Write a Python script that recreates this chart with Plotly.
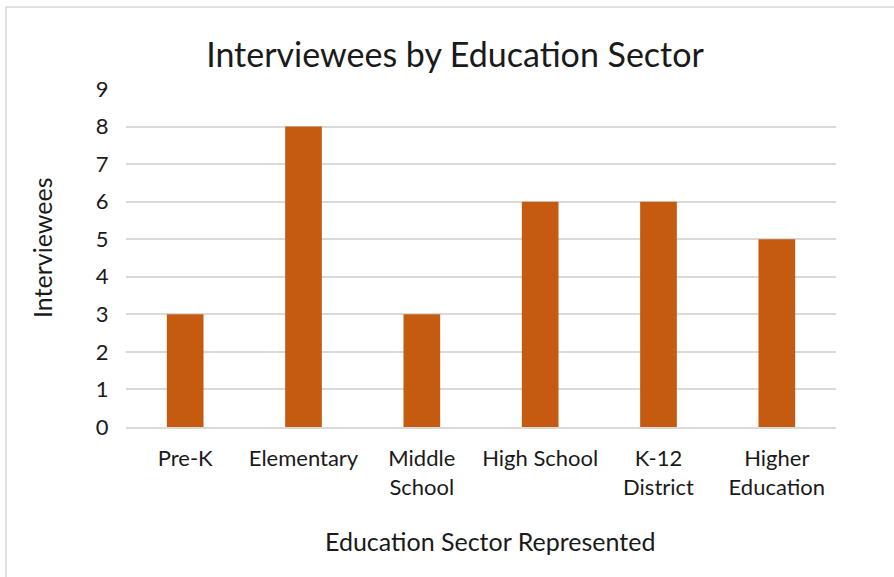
import plotly.graph_objects as go

categories = ["Pre-K", "Elementary", "Middle<br>School", "High School", "K-12<br>District", "Higher<br>Education"]
values = [3, 8, 3, 6, 6, 5]
y_ticks = [0, 1, 2, 3, 4, 5, 6, 7, 8, 9]

W, H = 894, 577
L, R, T, B = 126, 58, 89, 150
pw = W - L - R
ph = H - T - B
FONT = "Lato"
TXT = "#1a1a1a"

fig = go.Figure(go.Bar(x=categories, y=values, marker_color="#C55A11",
                       marker_line_width=0, width=0.31))

fig.update_layout(
    width=W, height=H,
    margin=dict(l=L, r=R, t=T, b=B, autoexpand=False),
    paper_bgcolor="white", plot_bgcolor="white",
    font=dict(family=FONT, color=TXT, size=22),
    title=dict(text="Interviewees by Education Sector", x=455 / W,
               xref="container", xanchor="center", y=1 - 55 / H, yref="container",
               yanchor="middle", font=dict(size=34, family=FONT, color=TXT)),
    showlegend=False,
)

fig.update_xaxes(showgrid=False, showline=True, linecolor="#d9d9d9", linewidth=1.5,
                 ticks="outside", ticklen=11, tickcolor="rgba(0,0,0,0)",
                 tickfont=dict(size=22, family=FONT, color=TXT))
fig.update_yaxes(range=[0, 9], tickvals=y_ticks, showgrid=True, gridcolor="#d9d9d9",
                 gridwidth=1.5, zeroline=False, showline=False,
                 ticks="outside", ticklen=12, tickcolor="rgba(0,0,0,0)",
                 tickfont=dict(size=22, family=FONT, color=TXT))

fig.add_annotation(text="Education Sector Represented", xref="paper", yref="paper",
                   x=(490 - L) / pw, y=-(541 - (T + ph)) / ph, showarrow=False,
                   xanchor="center", yanchor="middle", font=dict(size=25, family=FONT, color=TXT))
fig.add_annotation(text="Interviewees", xref="paper", yref="paper",
                   x=(42 - L) / pw, y=1 - (248 - T) / ph, showarrow=False, textangle=-90,
                   xanchor="center", yanchor="middle", font=dict(size=25, family=FONT, color=TXT))

# chart frame
fig.add_shape(type="rect", xref="paper", yref="paper",
              x0=(6 - L) / pw, x1=(W + 10 - L) / pw,
              y0=-(H + 10 - T - ph) / ph, y1=1 + (T - 7) / ph,
              line=dict(color="#d9d9d9", width=1.5), fillcolor="rgba(0,0,0,0)", layer="below")

fig.write_html("out.html", config={"displayModeBar": False},
               post_script="document.body.style.margin='0';")
